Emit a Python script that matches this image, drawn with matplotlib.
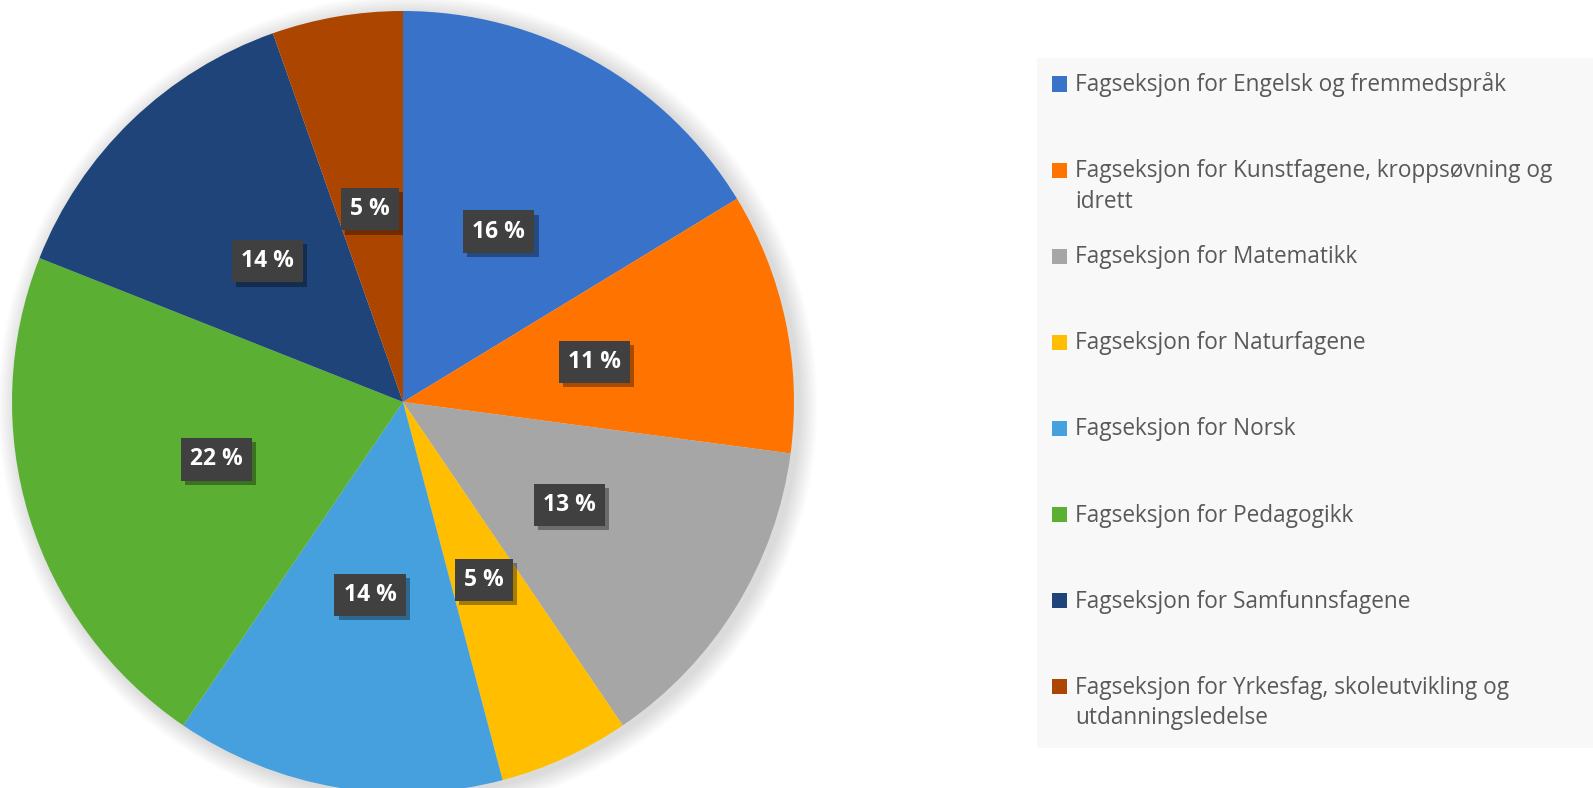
import matplotlib.pyplot as plt
from matplotlib.patches import Circle, Rectangle
import matplotlib.patheffects as pe

labels = ['Fagseksjon for Engelsk og fremmedspråk',
          'Fagseksjon for Kunstfagene, kroppsøvning og\nidrett',
          'Fagseksjon for Matematikk',
          'Fagseksjon for Naturfagene',
          'Fagseksjon for Norsk',
          'Fagseksjon for Pedagogikk',
          'Fagseksjon for Samfunnsfagene',
          'Fagseksjon for Yrkesfag, skoleutvikling og\nutdanningsledelse']
shares = [16.3, 10.8, 13.4, 5.4, 13.6, 21.5, 13.6, 5.4]
colors = ['#3872C9', '#FF7400', '#A6A6A6', '#FFBF00',
          '#45A0DD', '#5BB033', '#1F4479', '#AB4500']

W, H = 1593, 788
fig = plt.figure(figsize=(W / 100, H / 100), dpi=100)

# pie axes: centre (403, 402) px from top-left, radius 391 px
cx, cy, r = 403, 402, 391
ax = fig.add_axes([(cx - r) / W, (H - cy - r) / H, 2 * r / W, 2 * r / H])
ax.axis('off')

# soft shadow
for i in range(12):
    ax.add_patch(Circle((0.012, -0.008), 1.0 + 0.004 * (12 - i), color='black',
                        alpha=0.012, lw=0, zorder=0, clip_on=False))

wedges, texts, autotexts = ax.pie(
    shares, colors=colors, startangle=90, counterclock=False,
    autopct=lambda p: f'{p:.0f} %', pctdistance=0.5, radius=1.0,
    wedgeprops=dict(linewidth=0, clip_on=False), textprops=dict(zorder=5))
ax.set_xlim(-1, 1)
ax.set_ylim(-1, 1)

for t in autotexts:
    t.set_color('white')
    t.set_fontsize(16.5)
    t.set_fontweight('bold')
    t.set_fontfamily('Open Sans')
    t.set_bbox(dict(boxstyle='square,pad=0.4', facecolor='#404040',
                    edgecolor='none'))
    t.get_bbox_patch().set_path_effects(
        [pe.SimplePatchShadow(offset=(3, -3), shadow_rgbFace='black', alpha=0.35),
         pe.Normal()])

# legend panel
fig.patches.append(Rectangle((1037 / W, (H - 748) / H), (W - 1037) / W, (748 - 58) / H,
                             transform=fig.transFigure, facecolor='#F8F8F8',
                             edgecolor='none', zorder=0))
base0, step, line_h = 91, 86.1, 30.5
for i, (lab, col) in enumerate(zip(labels, colors)):
    yb = base0 + i * step
    fig.patches.append(Rectangle((1052 / W, (H - yb - 0.5) / H), 15 / W, 15 / H,
                                 transform=fig.transFigure, facecolor=col,
                                 edgecolor='none', zorder=2))
    for k, line in enumerate(lab.split('\n')):
        fig.text(1075 / W, (H - yb - k * line_h) / H, line, fontsize=16.3,
                 color='#595959', family='Open Sans', va='baseline', ha='left')

fig.savefig('out.png', dpi=100)
